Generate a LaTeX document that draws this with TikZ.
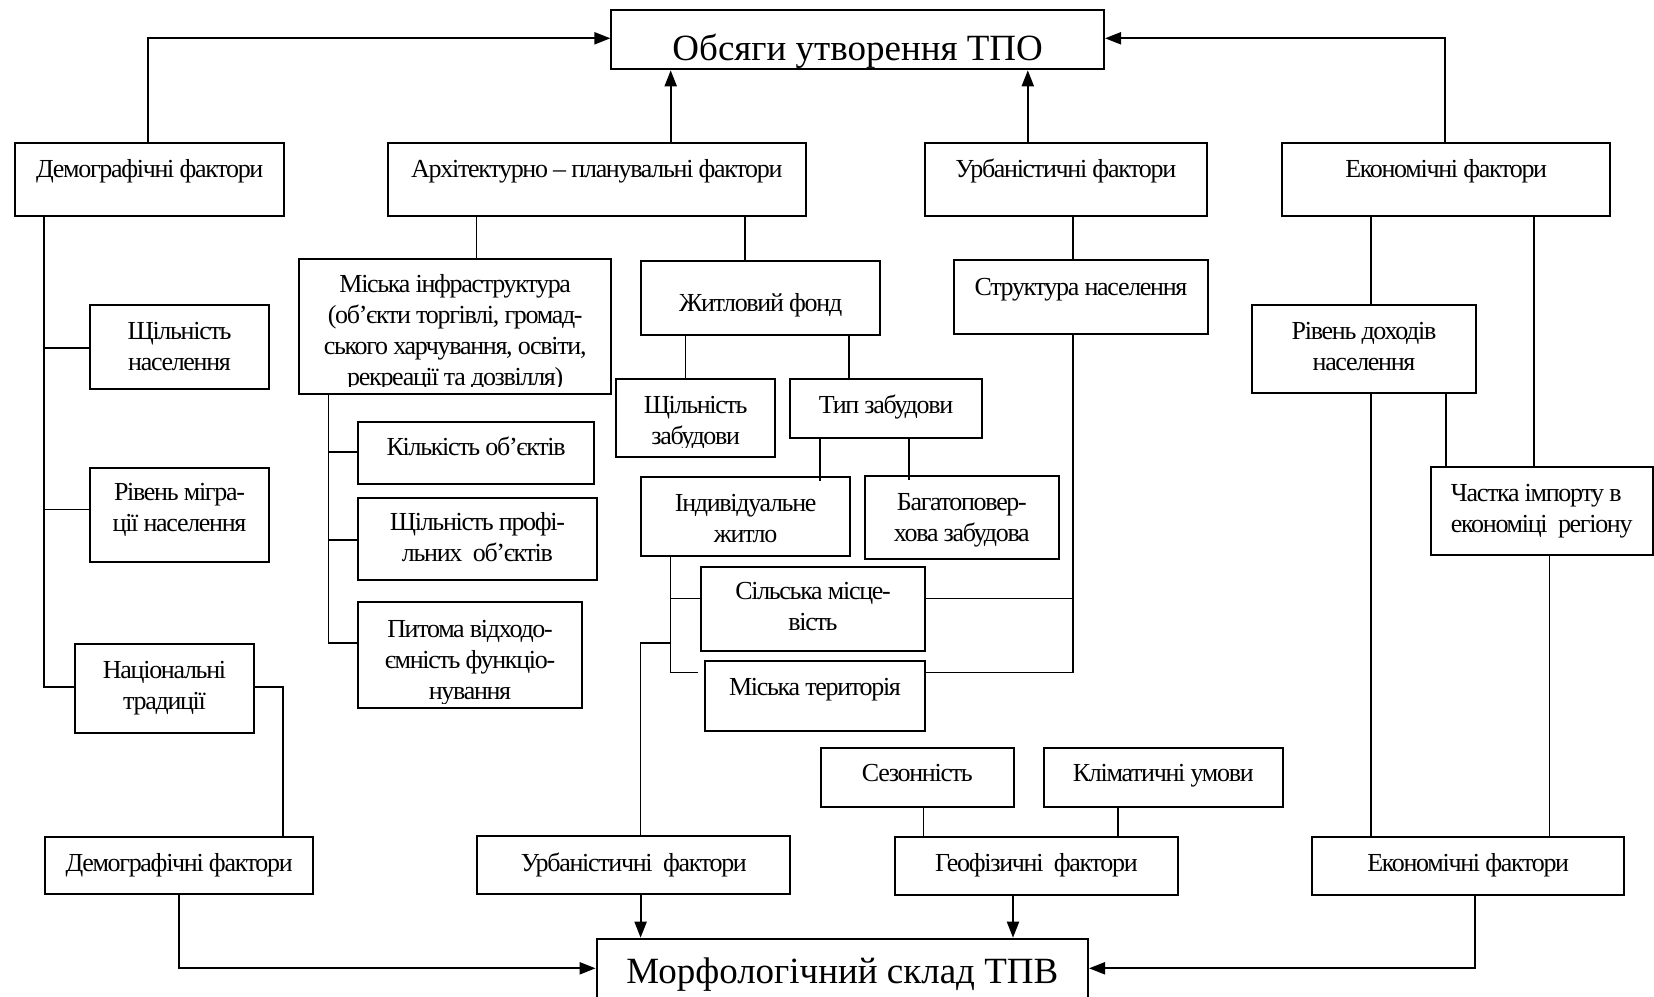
\documentclass[tikz,border=0pt]{standalone}
\usepackage{fontspec}
\setmainfont{Liberation Serif}
\newfontfamily\labfont[LetterSpace=-5]{Liberation Serif}
\usetikzlibrary{arrows.meta,calc}

% line strut for 26pt text: height 19.5pt, depth 6.5pt
\newcommand\st{\rule[-6.5pt]{0pt}{26pt}}

% rectangle node given by its corners (x1,y1) and (x2,y2), y pointing down
\newcommand\bx[5]{%
  \pgfmathsetmacro\bw{#4-#2}\pgfmathsetmacro\bh{#5-#3}%
  \node[box, minimum width=\bw pt, minimum height=\bh pt, anchor=north west] (#1) at (#2,#3) {};}

% one-line label with its baseline at y
\newcommand\one[4]{\node[lbl, anchor=base] (#1) at (#2.center |- 0,#3) {#4};}
% several lines, first baseline at y
\newcommand\many[4]{\node[lbl, anchor=north, yshift=19.5pt] (#1) at (#2.center |- 0,#3) {#4};}

\begin{document}
\begin{tikzpicture}[x=1pt, y=-1pt,
  box/.style={draw, line width=2pt, inner sep=0pt},
  lbl/.style={inner sep=0pt, align=center, font=\labfont\fontsize{26}{31}\selectfont},
  big/.style={inner sep=0pt, anchor=base, font=\fontsize{37}{44}\selectfont},
  main/.style={line width=2pt},
  link/.style={line width=1.6pt},
  arr/.style={-{Triangle[length=16pt,width=12pt]}}]
\useasboundingbox (0,0) rectangle (1654,996);

% ---- boxes ----
\bx{top}{610.4}{9.3}{1103}{68.3}
\bx{demoT}{14.3}{141.7}{283.2}{215}
\bx{arch}{387}{141.7}{804.7}{215}
\bx{urbT}{923.5}{141.7}{1206.2}{215}
\bx{ecoT}{1281.4}{141.7}{1609}{215}
\bx{dens}{89}{304}{268}{388.3}
\bx{migr}{89}{466.7}{268}{561}
\bx{nat}{74.1}{643.3}{253}{732.3}
\bx{demoB}{44}{836}{312.3}{892.7}
\bx{infra}{298}{257.7}{610.4}{393.3}
\bx{count}{356.8}{420.7}{593.4}{483.3}
\bx{prof}{357.3}{496.7}{595.6}{579}
\bx{spec}{357.3}{601}{580.7}{706.7}
\bx{house}{640}{260}{879.3}{333.7}
\bx{bdens}{615}{378.3}{774.3}{456}
\bx{btype}{789.3}{378.3}{980.7}{437.3}
\bx{indiv}{640}{475.7}{849.3}{555}
\bx{multi}{864}{475}{1057.7}{557.7}
\bx{rural}{700}{566}{924}{650}
\bx{city}{704}{660}{924}{730}
\bx{struct}{953.2}{259.3}{1206.7}{332.7}
\bx{income}{1250.7}{304}{1475.3}{392}
\bx{import}{1430}{466}{1652}{554}
\bx{urbB}{476.4}{835.3}{789.3}{893.3}
\bx{season}{819.6}{746.7}{1013}{806}
\bx{clim}{1042.6}{746.7}{1282}{806}
\bx{geo}{893.9}{835.7}{1177}{894.3}
\bx{ecoB}{1311}{836}{1623.4}{893.7}
\bx{morph}{595.6}{937.7}{1087}{1012}

% ---- labels ----
\node[big] (t-top) at (top.center |- 0,60) {Обсяги утворення ТПО};
\node[big] (t-morph) at (morph.center |- 0,983) {Морфологічний склад ТПВ};

\one{t-demoT}{demoT}{177}{Демографічні фактори}
\one{t-arch}{arch}{177}{Архітектурно – планувальні фактори}
\one{t-urbT}{urbT}{177}{Урбаністичні фактори}
\one{t-ecoT}{ecoT}{177}{Економічні фактори}
\one{t-count}{count}{455}{Кількість об’єктів}
\one{t-house}{house}{311.7}{Житловий фонд}
\one{t-btype}{btype}{413.3}{Тип забудови}
\one{t-city}{city}{695}{Міська територія}
\one{t-struct}{struct}{295}{Структура населення}
\one{t-demoB}{demoB}{871.7}{Демографічні фактори}
\one{t-urbB}{urbB}{871.7}{Урбаністичні~ фактори}
\one{t-season}{season}{781.7}{Сезонність}
\one{t-clim}{clim}{781.7}{Кліматичні умови}
\one{t-geo}{geo}{871.7}{Геофізичні~ фактори}
\one{t-ecoB}{ecoB}{871.7}{Економічні фактори}

\many{t-dens}{dens}{339}{\st Щільність\\\st населення}
\many{t-migr}{migr}{500.7}{\st Рівень мігра-\\\st ції населення}
\many{t-nat}{nat}{678}{\st Національні\\\st традиції}
\many{t-prof}{prof}{530}{\st Щільність профі-\\\st льних~ об’єктів}
\many{t-indiv}{indiv}{511.7}{\st Індивідуальне\\\st житло}
\many{t-multi}{multi}{510}{\st Багатоповер-\\\st хова забудова}
\many{t-rural}{rural}{599}{\st Сільська місце-\\\st вість}
\many{t-income}{income}{339.3}{\st Рівень доходів\\\st населення}
\node[lbl, align=left, anchor=north west, yshift=19.5pt] (t-import) at (1450.7,501.7)
  {\st Частка імпорту в\\\st економіці~ регіону};

% text frames that cut off their last line
\begin{scope}
  \clip (infra.north west) rectangle ($(infra.south east)+(0,-8.5)$);
  \many{t-infra}{infra}{292.7}{\st Міська інфраструктура\\\st (об’єкти торгівлі, громад-\\\st ського харчування, освіти,\\\st рекреації та дозвілля)}
\end{scope}
\begin{scope}
  \clip (spec.north west) rectangle ($(spec.south east)+(0,-5.5)$);
  \many{t-spec}{spec}{637}{\st Питома відходо-\\\st ємність функціо-\\\st нування}
\end{scope}
\begin{scope}
  \clip (bdens.north west) rectangle ($(bdens.south east)+(0,-10.5)$);
  \many{t-bdens}{bdens}{413.3}{\st Щільність\\\st забудови}
\end{scope}

% ---- arrows to the two result boxes ----
\draw[main,arr] (demoT.north -| 148,0) |- (top.west |- 0,38.3);
\draw[main,arr] (arch.north -| 670.7,0) -- (top.south -| 670.7,0);
\draw[main,arr] (urbT.north -| 1027.8,0) -- (top.south -| 1027.8,0);
\draw[main,arr] (ecoT.north -| 1445,0) |- (top.east |- 0,38.3);
\draw[main,arr] (demoB.south -| 179,0) |- (morph.west |- 0,968.3);
\draw[main,arr] (urbB.south -| 640.6,0) -- (morph.north -| 640.6,0);
\draw[main,arr] (geo.south -| 1013,0) -- (morph.north -| 1013,0);
\draw[main,arr] (ecoB.south -| 1475,0) |- (morph.east |- 0,968.3);

% ---- demographic branch ----
\draw[link] (demoT.south -| 44,0) |- (dens.west |- 0,347.7);
\draw[link] (demoT.south -| 44,0) |- (migr.west |- 0,509.3);
\draw[link] (demoT.south -| 44,0) |- (nat.west |- 0,686.7);
\draw[link] (nat.east |- 0,686.7) -| (demoB.north -| 283.2,0);

% ---- architectural branch ----
\draw[link] (arch.south -| 476.4,0) -- (infra.north -| 476.4,0);
\draw[link] (arch.south -| 744.8,0) -- (house.north -| 744.8,0);
\draw[link] (infra.south -| 328.5,0) |- (count.west |- 0,451.7);
\draw[link] (infra.south -| 328.5,0) |- (prof.west |- 0,540);
\draw[link] (infra.south -| 328.5,0) |- (spec.west |- 0,642.7);
\draw[link] (house.south -| 685.3,0) -- (bdens.north -| 685.3,0);
\draw[link] (house.south -| 848.7,0) -- (btype.north -| 848.7,0);
\draw[link] (btype.south -| 819.7,0) -- ($(indiv.north -| 819.7,0)+(0,5)$);
\draw[link] (btype.south -| 908.7,0) -- ($(multi.north -| 908.7,0)+(0,5)$);
\draw[link] (indiv.south -| 670.3,0) |- (rural.west |- 0,598.3);
\draw[link] (indiv.south -| 670.3,0) |- ($(city.west |- 0,672.3)+(-6,0)$);
\draw[link] (urbB.north -| 640.6,0) |- (670.3,642.7) -- (indiv.south -| 670.3,0);

% ---- urban branch ----
\draw[link] (urbT.south -| 1072.8,0) -- (struct.north -| 1072.8,0);
\draw[link] (struct.south -| 1072.8,0) |- (rural.east |- 0,598.3);
\draw[link] (struct.south -| 1072.8,0) |- (city.east |- 0,672.3);

% ---- economic branch ----
\draw[link] (ecoT.south -| 1370.9,0) -- (income.north -| 1370.9,0);
\draw[link] (ecoT.south -| 1534,0) -- (import.north -| 1534,0);
\draw[link] (income.south -| 1370.9,0) -- (ecoB.north -| 1370.9,0);
\draw[link] (income.south -| 1445.7,0) -- (import.north -| 1445.7,0);
\draw[link] (import.south -| 1549.5,0) -- (ecoB.north -| 1549.5,0);

% ---- geophysical branch ----
\draw[link] (season.south -| 923.5,0) -- (geo.north -| 923.5,0);
\draw[link] (clim.south -| 1117.8,0) -- (geo.north -| 1117.8,0);
\end{tikzpicture}
\end{document}
